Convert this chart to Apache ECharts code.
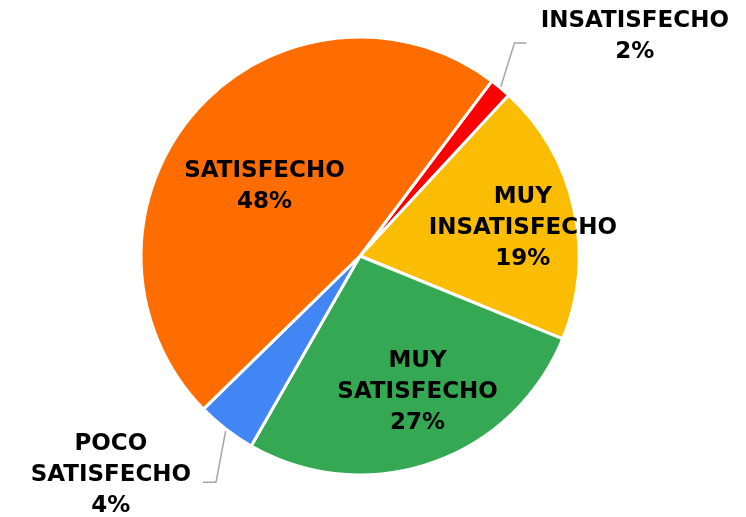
<!DOCTYPE html>
<html>
<head>
<meta charset="utf-8">
<script src="https://cdn.jsdelivr.net/npm/echarts@6/dist/echarts.min.js"></script>
<style>
  html, body { margin: 0; padding: 0; background: #fff; }
  #main { width: 746px; height: 517px; }
</style>
</head>
<body>
<div id="main"></div>
<script>
// datos
var categories = ['INSATISFECHO', 'MUY INSATISFECHO', 'MUY SATISFECHO', 'POCO SATISFECHO', 'SATISFECHO'];
var values = [1.6, 19.3, 27.1, 4.4, 47.6];

var colors = ['#FF0000', '#FBBC04', '#34A853', '#4285F4', '#FF6D01'];
var outside = [true, false, false, true, false];
// ajuste de las etiquetas internas (dx, dy)
var insideShift = [null, [53, -4], [21, 30], null, [-11, 5]];
// forma de las lineas guia (codo relativo al borde)
var guideShape = [[[14, -45], [26, -45]], null, null, [[-10, 53], [-23, 53]], null];

var myChart = echarts.init(document.getElementById('main'));

var font = { fontFamily: 'DejaVu Sans', fontWeight: 'bold', fontSize: 23, color: '#000', lineHeight: 31 };

function outLabel(boxW, pad) {
  return {
    position: 'outside',
    padding: pad,
    formatter: function (p) {
      var lines = p.name.split(' ');
      lines.push(p.percent + '%');
      return lines.map(function (s) { return '{t|' + s + '}'; }).join('\n');
    },
    rich: {
      t: Object.assign({ width: boxW, align: 'center' }, font)
    }
  };
}

var seriesData = categories.map(function (name, i) {
  var item = { name: name, value: values[i], itemStyle: { color: colors[i] } };
  if (outside[i]) {
    if (i === 0) {
      item.label = outLabel(190, [0, 0, 45, 0]);
      item.labelLine = { length: 38, length2: 10 };
    } else {
      item.label = outLabel(166, [47, 0, 0, 0]);
      item.labelLine = { length: 28, length2: 10 };
    }
  } else {
    item.label = { position: 'inside' };
  }
  return item;
});

option = {
  backgroundColor: '#fff',
  animation: false,
  series: [
    {
      type: 'pie',
      center: [360, 256],
      radius: 219,
      startAngle: 53,
      clockwise: true,
      avoidLabelOverlap: false,
      percentPrecision: 0,
      itemStyle: { borderColor: '#fff', borderWidth: 3 },
      label: Object.assign({
        formatter: function (p) {
          return p.name.replace(' ', '\n') + '\n' + p.percent + '%';
        }
      }, font),
      labelLine: {
        show: true,
        lineStyle: { color: '#A6A6A6', width: 1.5 }
      },
      labelLayout: function (params) {
        var i = params.dataIndex;
        var g = guideShape[i];
        if (g && params.labelLinePoints) {
          var p0 = params.labelLinePoints[0];
          return {
            labelLinePoints: [
              [p0[0], p0[1]],
              [p0[0] + g[0][0], p0[1] + g[0][1]],
              [p0[0] + g[1][0], p0[1] + g[1][1]]
            ]
          };
        }
        var s = insideShift[i];
        if (!s) return {};
        var r = params.labelRect;
        return {
          x: r.x + r.width / 2 + s[0],
          y: r.y + r.height / 2 + s[1],
          align: 'center',
          verticalAlign: 'middle'
        };
      },
      data: seriesData
    }
  ]
};

myChart.setOption(option);
</script>
</body>
</html>
